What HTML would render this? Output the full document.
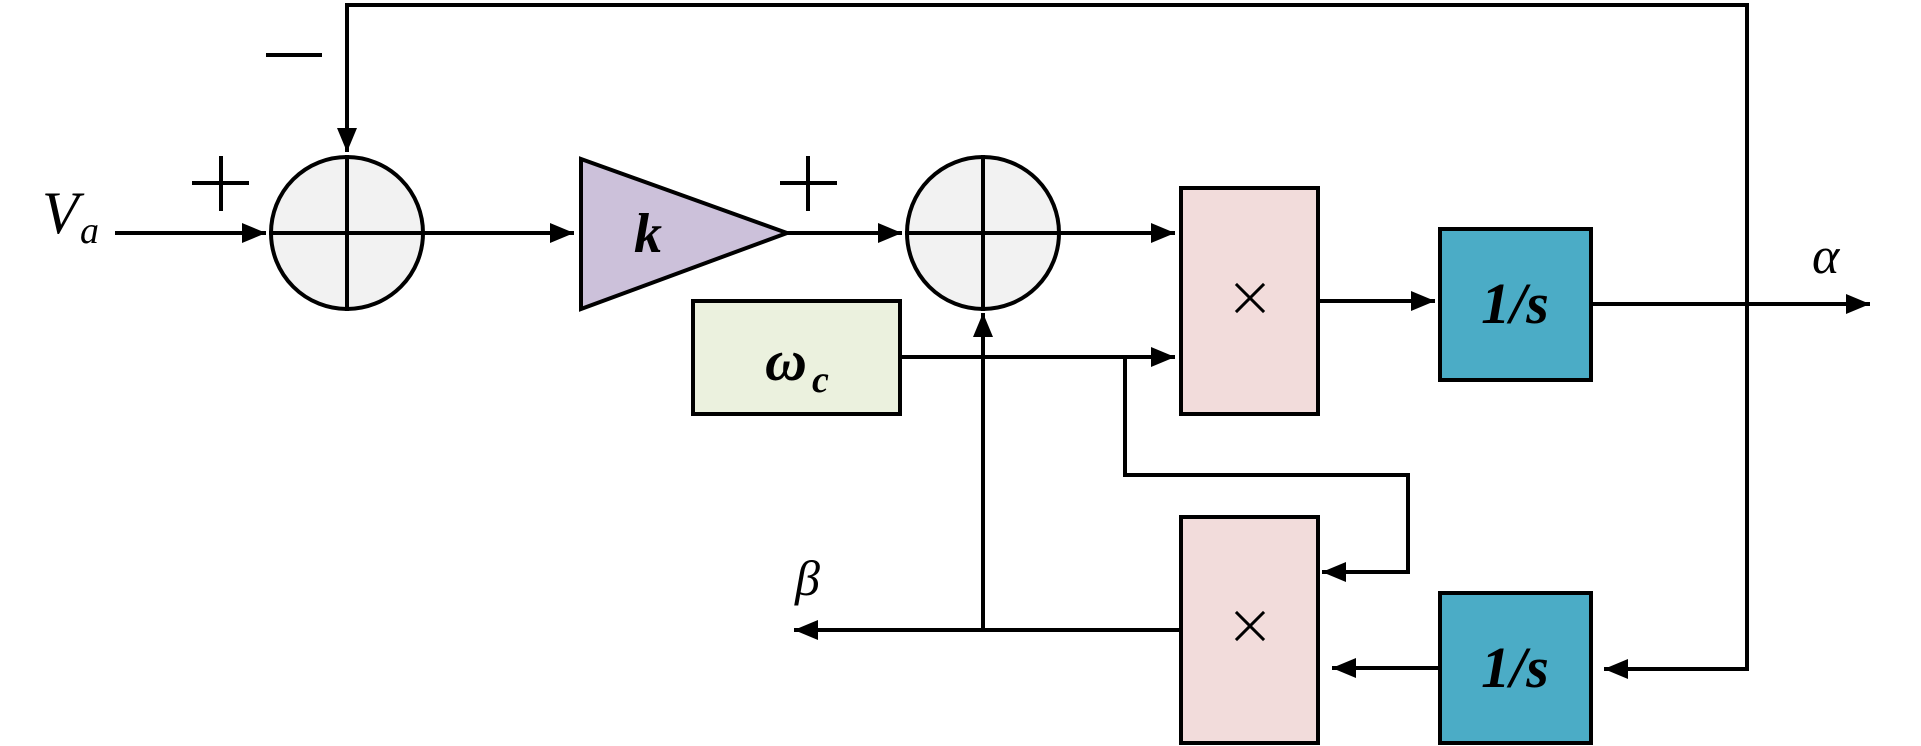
<!DOCTYPE html>
<html><head><meta charset="utf-8"><style>html,body{margin:0;padding:0;background:#fff;}svg{display:block}</style></head>
<body>
<svg width="1921" height="746" viewBox="0 0 1921 746" xmlns="http://www.w3.org/2000/svg" font-family="Liberation Serif, serif">
<defs>
<marker id="ar" markerWidth="6" markerHeight="6" refX="5.5" refY="3" orient="auto" markerUnits="strokeWidth"><path d="M0,0.5 L6,3 L0,5.5 Z" fill="#000"/></marker>
</defs>
<g stroke="#000" stroke-width="4" fill="none" stroke-linecap="square">
<!-- top feedback -->
<polyline points="1747,669 1747,5 347,5 347,130" />
<line x1="347" y1="130" x2="347" y2="150" marker-end="url(#ar)"/>
<!-- circles -->
<circle cx="347" cy="233" r="76" fill="#f2f2f2"/>
<line x1="271" y1="233" x2="423" y2="233"/><line x1="347" y1="157" x2="347" y2="309"/>
<circle cx="983" cy="233" r="76" fill="#f2f2f2"/>
<line x1="907" y1="233" x2="1059" y2="233"/><line x1="983" y1="157" x2="983" y2="309"/>
<!-- input -->
<line x1="117" y1="233" x2="264" y2="233" marker-end="url(#ar)"/>
<line x1="423" y1="233" x2="572" y2="233" marker-end="url(#ar)"/>
<!-- triangle -->
<polygon points="581,159 787,233 581,309" fill="#ccc1da"/>
<line x1="787" y1="233" x2="900" y2="233" marker-end="url(#ar)"/>
<line x1="1059" y1="233" x2="1173" y2="233" marker-end="url(#ar)"/>
<!-- omega box -->
<rect x="693" y="301" width="207" height="113" fill="#ebf1de"/>
<line x1="900" y1="357" x2="1173" y2="357" marker-end="url(#ar)"/>
<polyline points="1125,357 1125,475 1408,475 1408,572 1330,572"/>
<line x1="1340" y1="572" x2="1324" y2="572" marker-end="url(#ar)"/>
<!-- mult boxes -->
<rect x="1181" y="188" width="137" height="226" fill="#f2dcdb"/>
<rect x="1181" y="517" width="137" height="226" fill="#f2dcdb"/>
<line x1="1318" y1="301" x2="1433" y2="301" marker-end="url(#ar)"/>
<!-- integrators -->
<rect x="1440" y="229" width="151" height="151" fill="#4bacc6"/>
<rect x="1440" y="593" width="151" height="150" fill="#4bacc6"/>
<line x1="1591" y1="304" x2="1868" y2="304" marker-end="url(#ar)"/>
<line x1="1747" y1="669" x2="1606" y2="669" marker-end="url(#ar)"/>
<line x1="1440" y1="668" x2="1334" y2="668" marker-end="url(#ar)"/>
<!-- beta -->
<line x1="1181" y1="630" x2="796" y2="630" marker-end="url(#ar)"/>
<line x1="983" y1="630" x2="983" y2="315" marker-end="url(#ar)"/>
<!-- signs -->
<line x1="194" y1="183" x2="247" y2="183"/><line x1="221" y1="158" x2="221" y2="209"/>
<line x1="782" y1="183" x2="835" y2="183"/><line x1="808" y1="158" x2="808" y2="209"/>
<line x1="268" y1="55" x2="320" y2="55"/>
<!-- x marks -->
<line x1="1237" y1="285" x2="1263" y2="311" stroke-width="3"/><line x1="1263" y1="285" x2="1237" y2="311" stroke-width="3"/>
<line x1="1237" y1="613" x2="1263" y2="639" stroke-width="3"/><line x1="1263" y1="613" x2="1237" y2="639" stroke-width="3"/>
</g>
<g fill="#000">
<text x="42" y="233" font-size="60" font-style="italic">V</text>
<text x="80" y="243" font-size="38" font-style="italic">a</text>
<text x="648" y="252" font-size="56" font-style="italic" font-weight="bold" text-anchor="middle">k</text>
<text x="765" y="380" font-size="58" font-style="italic" font-weight="bold">ω</text>
<text x="812" y="392" font-size="38" font-style="italic" font-weight="bold">c</text>
<text x="1515" y="323" font-size="58" font-style="italic" font-weight="bold" text-anchor="middle">1/s</text>
<text x="1515" y="687" font-size="58" font-style="italic" font-weight="bold" text-anchor="middle">1/s</text>
<text x="1812" y="273" font-size="52" font-style="italic">α</text>
<text x="795" y="595" font-size="50" font-style="italic">β</text>
</g>
</svg>
</body></html>
